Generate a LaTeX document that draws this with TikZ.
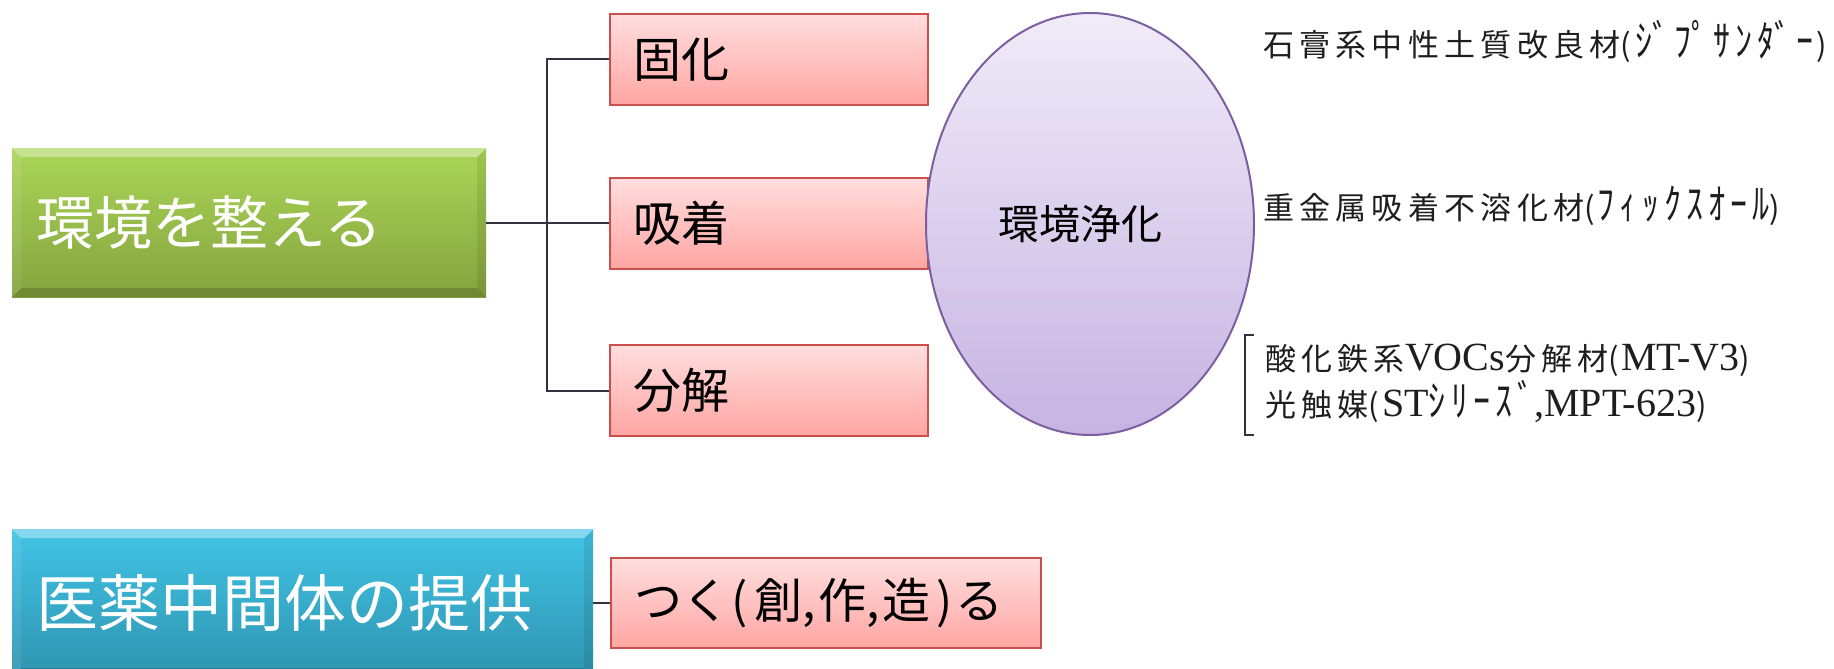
\documentclass[tikz,border=0pt]{standalone}
\usepackage{graphicx}
\usepackage{fontspec}
\setmainfont{Noto Sans CJK JP}
\newfontfamily\jp{Noto Sans CJK JP}
\newfontfamily\jpsp[LetterSpace=17]{Noto Sans CJK JP}
\newfontfamily\kana[LetterSpace=15]{Noto Sans CJK JP}
\newfontfamily\lat{Liberation Serif}
\usetikzlibrary{shapes.geometric}
\definecolor{greentop}{HTML}{ABD658}
\definecolor{greenbot}{HTML}{84A33E}
\definecolor{bluetop}{HTML}{42C4E6}
\definecolor{bluebot}{HTML}{2E93AF}
\definecolor{pinktop}{HTML}{FFDEDE}
\definecolor{pinkbot}{HTML}{FFA5A2}
\definecolor{pinkline}{HTML}{C9504D}
\definecolor{elltop}{HTML}{F0EBF8}
\definecolor{ellbot}{HTML}{C6B3E2}
\definecolor{ellline}{HTML}{7B5FA0}
\definecolor{conn}{HTML}{30343F}
\definecolor{txt}{HTML}{1E1E1E}
\newcommand{\latf}{\lat\fontsize{40}{46}\selectfont}
\newcommand{\kanaf}[1]{\scalebox{1}[1.25]{\kana\fontsize{34}{40}\selectfont #1}}
\newcommand{\kanab}[1]{\scalebox{1}[1.25]{\jp\fontsize{34}{40}\selectfont #1}}
\tikzset{
  bevel/.style={path picture={
    \fill[white,opacity=.35] (path picture bounding box.north west) -- (path picture bounding box.north east)
      -- ([shift={(-9pt,-9pt)}]path picture bounding box.north east) -- ([shift={(9pt,-9pt)}]path picture bounding box.north west) -- cycle;
    \fill[black,opacity=.16] (path picture bounding box.south west) -- (path picture bounding box.south east)
      -- ([shift={(-9pt,9pt)}]path picture bounding box.south east) -- ([shift={(9pt,9pt)}]path picture bounding box.south west) -- cycle;
    \fill[black,opacity=.08] (path picture bounding box.north east) -- (path picture bounding box.south east)
      -- ([shift={(-9pt,9pt)}]path picture bounding box.south east) -- ([shift={(-9pt,-9pt)}]path picture bounding box.north east) -- cycle;
    \fill[white,opacity=.08] (path picture bounding box.north west) -- (path picture bounding box.south west)
      -- ([shift={(9pt,9pt)}]path picture bounding box.south west) -- ([shift={(9pt,-9pt)}]path picture bounding box.north west) -- cycle;
  }},
  bigbox/.style={rectangle, bevel, inner xsep=24pt, inner ysep=0pt, align=left, text=white, anchor=north west},
  greenbox/.style={bigbox, top color=greentop, bottom color=greenbot, text width=426pt, minimum height=149pt,
    font=\fontsize{58}{66}\selectfont},
  bluebox/.style={bigbox, top color=bluetop, bottom color=bluebot, text width=533pt, minimum height=148pt,
    font=\fontsize{62}{70}\selectfont},
  pinkbox/.style={rectangle, draw=pinkline, line width=2pt, top color=pinktop, bottom color=pinkbot,
    inner xsep=23pt, inner ysep=0pt, align=left, text=black, anchor=north west,
    font=\fontsize{48}{56}\selectfont},
  ellip/.style={ellipse, draw=ellline, line width=2pt, top color=elltop, bottom color=ellbot,
    minimum width=328pt, minimum height=422pt, inner sep=0pt, text=black, font=\fontsize{41}{48}\selectfont},
  rtext/.style={anchor=base west, inner sep=0pt, text=txt, font=\fontsize{31}{37}\selectfont},
  conline/.style={draw=conn, line width=2pt},
}
\begin{document}
\begin{tikzpicture}[x=1pt,y=-1pt]
\useasboundingbox (0,0) rectangle (1834,669);
% left main boxes
\node[greenbox] (env) at (12,148) {環境を整える};
\node[bluebox] (med) at (12,529) {医薬中間体の提供};
% pink boxes
\node[pinkbox, text width=272pt, minimum height=91pt] (pa) at (609,13) {固化};
\node[pinkbox, text width=272pt, minimum height=91pt] (pb) at (609,177) {吸着};
\node[pinkbox, text width=272pt, minimum height=91pt] (pc) at (609,344) {分解};
\node[pinkbox, text width=384pt, minimum height=90pt] (pd) at (610,557)
  {つく\kern2pt(\kern6pt創,\kern3pt作,\kern3pt造\kern6pt)\kern2ptる};
% ellipse
\node[ellip] (el) at (1090,224) {環境浄化\hspace*{20pt}};
% connectors
\coordinate (j) at (547,223);
\draw[conline] (env.east) -- (env.east -| pb.west);
\draw[conline] (pa.west) -- (pa.west -| j) -- (pc.west -| j) -- (pc.west);
\draw[conline] (med.east) -- (med.east -| pd.west);
% right texts
\node[rtext] (t1) at (1263,56.5)
  {{\jpsp 石膏系中性土質改良材}{\jp (\kern4pt}\kanab{ｼﾞ\kern5ptﾌﾟ\kern5ptｻ\kern5ptﾝ\kern5ptﾀﾞ\kern5ptｰ}{\jp \kern3pt)}};
\node[rtext] (t2) at (1263,219.5)
  {{\jpsp 重金属吸着不溶化材}{\jp (\kern3pt}\kanaf{ﾌｨｯｸｽｵｰﾙ}{\jp )}};
\node[rtext] (t3) at (1265,370.5)
  {{\jpsp 酸化鉄系}{\latf VOCs}{\jpsp 分解材}{\jp (\kern2pt}{\latf MT-V3}{\jp )}};
\node[rtext] (t4) at (1265,416.5)
  {{\jpsp 光触媒}{\jp (\kern3pt}{\latf ST}\kanaf{ｼﾘｰｽﾞ}{\latf ,MPT-623}{\jp )}};
% bracket
\draw[draw=conn, line width=1.5pt] (1254,335) -- (1245,335) -- (1245,435) -- (1254,435);
\end{tikzpicture}
\end{document}
